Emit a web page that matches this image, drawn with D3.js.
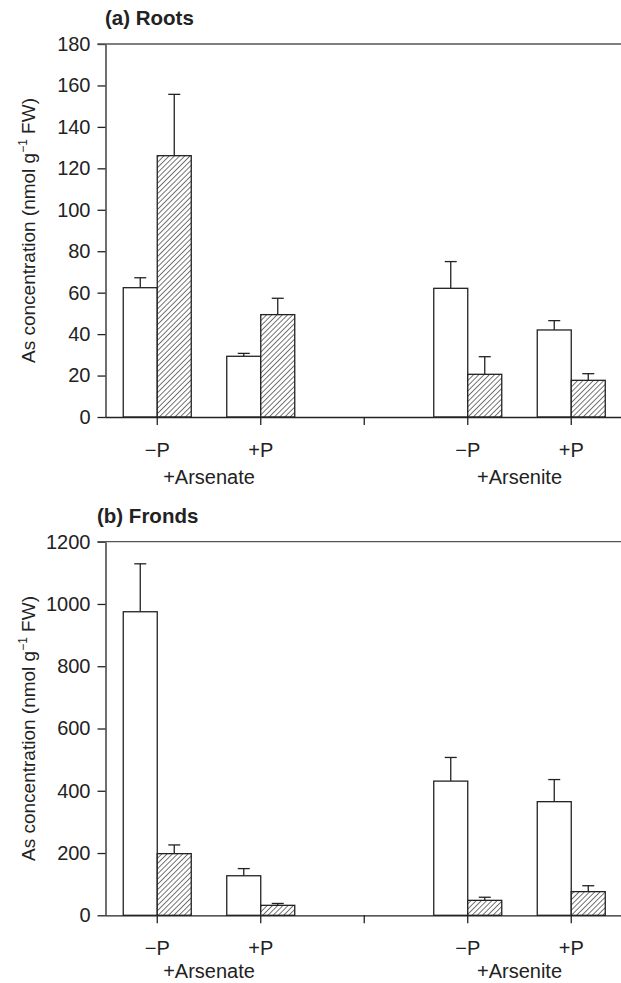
<!DOCTYPE html>
<html>
<head>
<meta charset="utf-8">
<script src="https://cdn.jsdelivr.net/npm/d3@7/dist/d3.min.js"></script>
<style>
  body { margin: 0; background: #fff; }
  text { font-family: "Liberation Sans", Arial, sans-serif; fill: #222; }
</style>
</head>
<body>
<svg id="chart" width="621" height="983"></svg>
<script>
// categorias del eje x (la tercera es el hueco entre tratamientos)
var categorias = ["As-P", "As+P", "hueco", "Ai-P", "Ai+P"];
var etiquetas = ["\u2212P", "+P", "", "\u2212P", "+P"];
var grupos = [["+Arsenate", "As-P", "As+P"], ["+Arsenite", "Ai-P", "Ai+P"]];

// (a) Roots
var raizBlanco    = [62.4, 29.3, null, 62.1, 42.0];
var raizBlancoErr = [4.8, 1.4, null, 12.9, 4.5];
var raizRayado    = [126.1, 49.4, null, 20.6, 17.7];
var raizRayadoErr = [29.6, 7.9, null, 8.5, 3.2];
var raizTicks = [0, 20, 40, 60, 80, 100, 120, 140, 160, 180];

// (b) Fronds
var frondaBlanco    = [975, 127, null, 431, 365];
var frondaBlancoErr = [154, 23, null, 76, 71];
var frondaRayado    = [198, 32, null, 48, 76];
var frondaRayadoErr = [28, 6, null, 10, 19];
var frondaTicks = [0, 200, 400, 600, 800, 1000, 1200];

var svg = d3.select("#chart");
var colorLinea = "#222";
var tamLetra = 20;

// patron de rayas diagonales
var defs = svg.append("defs");
var pat = defs.append("pattern")
    .attr("id", "rayado")
    .attr("patternUnits", "userSpaceOnUse")
    .attr("width", 3.7).attr("height", 3.7)
    .attr("patternTransform", "rotate(45)");
pat.append("rect").attr("width", 3.7).attr("height", 3.7).attr("fill", "#fff");
pat.append("line")
    .attr("x1", 0).attr("y1", 0).attr("x2", 0).attr("y2", 3.7)
    .attr("stroke", "#1a1a1a").attr("stroke-width", 1.2);

var x = d3.scaleBand()
    .domain(categorias)
    .range([105.5, 623])
    .padding(0);
var anchoBarra = 34;

function centro(c) { return x(c) + x.bandwidth() / 2; }

function panel(titulo, tx, top, bottom, dyGrupo, blanco, blancoErr, rayado, rayadoErr, ticks) {
  var y = d3.scaleLinear()
      .domain([0, ticks[ticks.length - 1]])
      .range([bottom, top]);

  var g = svg.append("g");

  // titulo
  g.append("text")
      .attr("x", tx).attr("y", top - 19)
      .attr("font-size", 20.5).attr("font-weight", "bold")
      .text(titulo);

  // eje y
  g.append("g")
      .attr("transform", "translate(105.5,0)")
      .call(d3.axisLeft(y).tickValues(ticks).tickFormat(d3.format("d"))
            .tickSize(8).tickSizeOuter(0).tickPadding(7))
      .call(function(a) {
        a.selectAll("path, line").attr("stroke", colorLinea).attr("stroke-width", 1.3);
        a.selectAll("text").attr("font-size", tamLetra).attr("font-family", "Liberation Sans, Arial, sans-serif").attr("fill", "#222");
      });

  // linea superior
  g.append("line")
      .attr("x1", 97.5).attr("x2", 621)
      .attr("y1", y(ticks[ticks.length - 1])).attr("y2", y(ticks[ticks.length - 1]))
      .attr("stroke", "#555").attr("stroke-width", 1.3);

  // etiqueta del eje y
  var lab = g.append("text")
      .attr("transform", "translate(35," + ((top + bottom) / 2) + ") rotate(-90)")
      .attr("text-anchor", "middle")
      .attr("font-size", 19);
  lab.append("tspan").text("As concentration (nmol g");
  lab.append("tspan").attr("font-size", 12).attr("dy", -8).text("\u22121");
  lab.append("tspan").attr("dy", 8).text(" FW)");

  var datos = categorias.map(function(c, i) {
    return {c: c, b: blanco[i], be: blancoErr[i], r: rayado[i], re: rayadoErr[i]};
  }).filter(function(d) { return d.b != null; });

  // barras de error (solo hacia arriba)
  function errores(valor, err, dx) {
    var e = g.append("g").selectAll("g").data(datos).enter().append("g");
    e.append("line")
        .attr("x1", function(d) { return centro(d.c) + dx; })
        .attr("x2", function(d) { return centro(d.c) + dx; })
        .attr("y1", function(d) { return y(d[valor]); })
        .attr("y2", function(d) { return y(d[valor] + d[err]); })
        .attr("stroke", colorLinea).attr("stroke-width", 1.3);
    e.append("line")
        .attr("x1", function(d) { return centro(d.c) + dx - 6; })
        .attr("x2", function(d) { return centro(d.c) + dx + 6; })
        .attr("y1", function(d) { return y(d[valor] + d[err]); })
        .attr("y2", function(d) { return y(d[valor] + d[err]); })
        .attr("stroke", colorLinea).attr("stroke-width", 1.3);
  }
  errores("b", "be", -anchoBarra / 2);
  errores("r", "re", anchoBarra / 2);

  // barras blancas
  g.append("g").selectAll("rect").data(datos).enter().append("rect")
      .attr("x", function(d) { return centro(d.c) - anchoBarra; })
      .attr("y", function(d) { return y(d.b); })
      .attr("width", anchoBarra)
      .attr("height", function(d) { return y(0) - y(d.b); })
      .attr("fill", "#fff").attr("stroke", colorLinea).attr("stroke-width", 1.3);

  // barras rayadas
  g.append("g").selectAll("rect").data(datos).enter().append("rect")
      .attr("x", function(d) { return centro(d.c); })
      .attr("y", function(d) { return y(d.r); })
      .attr("width", anchoBarra)
      .attr("height", function(d) { return y(0) - y(d.r); })
      .attr("fill", "url(#rayado)").attr("stroke", colorLinea).attr("stroke-width", 1.3);

  // eje x
  g.append("g")
      .attr("transform", "translate(0," + bottom + ")")
      .call(d3.axisBottom(x).tickSize(8).tickSizeOuter(0).tickPadding(17.5)
            .tickFormat(function(d, i) { return etiquetas[i]; }))
      .call(function(a) {
        a.select(".domain").attr("d", "M105.5,0.5H621");
        a.selectAll("path, line").attr("stroke", colorLinea).attr("stroke-width", 1.3);
        a.selectAll("text").attr("font-size", tamLetra).attr("font-family", "Liberation Sans, Arial, sans-serif").attr("fill", "#222");
      });

  // nombres de los tratamientos
  g.selectAll("text.grupo").data(grupos).enter().append("text")
      .attr("class", "grupo")
      .attr("x", function(d) { return (centro(d[1]) + centro(d[2])) / 2; })
      .attr("y", bottom + dyGrupo)
      .attr("text-anchor", "middle")
      .attr("font-size", tamLetra)
      .text(function(d) { return d[0]; });
}

panel("(a) Roots", 105, 44, 417, 67, raizBlanco, raizBlancoErr, raizRayado, raizRayadoErr, raizTicks);
panel("(b) Fronds", 97, 541.7, 915.3, 63, frondaBlanco, frondaBlancoErr, frondaRayado, frondaRayadoErr, frondaTicks);
</script>
</body>
</html>
